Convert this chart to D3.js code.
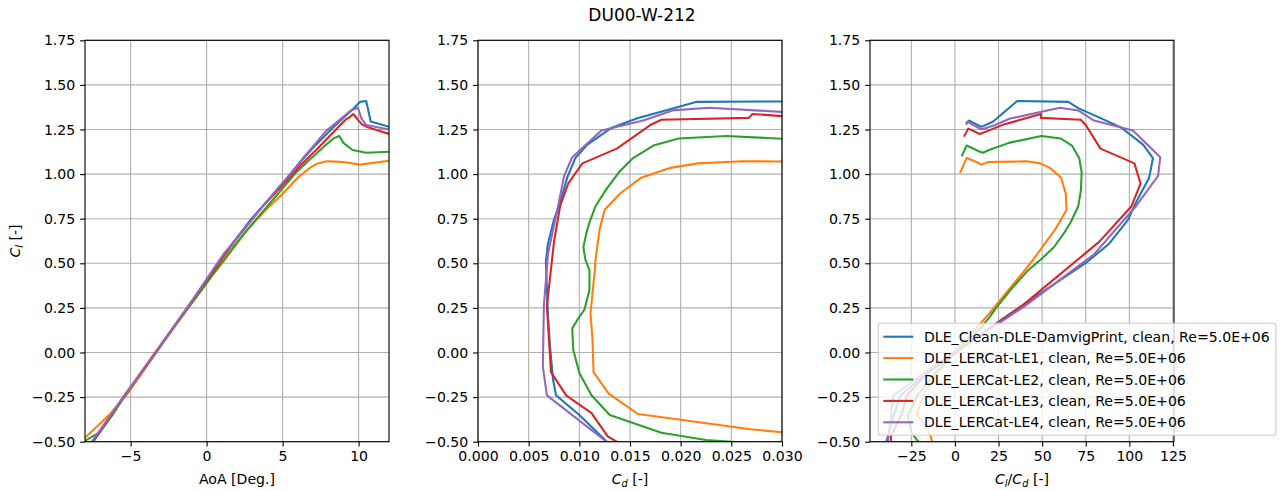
<!DOCTYPE html>
<html><head><meta charset="utf-8">
<script src="https://cdn.jsdelivr.net/npm/d3@7"></script>
<style>
body{margin:0;background:#fff;}
svg{font-family:"DejaVu Sans",sans-serif;}
</style>
</head><body>
<svg id="c" width="1284" height="490"></svg>
<script>
// ---------------- data ----------------
const seriesNames = [
  "DLE_Clean-DLE-DamvigPrint, clean, Re=5.0E+06",
  "DLE_LERCat-LE1, clean, Re=5.0E+06",
  "DLE_LERCat-LE2, clean, Re=5.0E+06",
  "DLE_LERCat-LE3, clean, Re=5.0E+06",
  "DLE_LERCat-LE4, clean, Re=5.0E+06"
];
const seriesColors = ["#1f77b4", "#ff7f0e", "#2ca02c", "#d62728", "#9467bd"];

// Clean
const aoaClean = [-9.0, -7.5, -6.2, -5.4, -4.6, -3.0, -1.6, 0.85, 1.7, 2.9, 3.9, 5.3, 6.4, 7.2, 8.3, 9.0, 9.7, 10.1, 10.5, 10.8, 12.0, 14.0, 16.0];
const clClean  = [-0.69, -0.505, -0.35, -0.24, -0.15, 0.04, 0.21, 0.51, 0.61, 0.745, 0.84, 0.98, 1.09, 1.165, 1.26, 1.315, 1.37, 1.405, 1.41, 1.295, 1.265, 1.30, 1.286];
const cdClean  = [0.0161, 0.0128, 0.0100, 0.0077, 0.0074, 0.0071, 0.0069, 0.0067, 0.0069, 0.0075, 0.0081, 0.0088, 0.0096, 0.0108, 0.0132, 0.0158, 0.0194, 0.0216, 0.0395, 0.059, 0.083, 0.159, 0.204];

// LE1
const aoaLE1 = [-9.0, -7.9, -7.4, -6.35, -5.2, -4.2, -2.75, -1.45, 0.5, 1.2, 2.7, 3.9, 5.0, 6.0, 6.8, 7.3, 7.9, 8.5, 9.0, 10.1, 12.0, 14.0, 16.0];
const clLE1  = [-0.53, -0.47, -0.43, -0.345, -0.23, -0.11, 0.07, 0.22, 0.445, 0.52, 0.69, 0.80, 0.89, 0.98, 1.035, 1.06, 1.072, 1.07, 1.068, 1.053, 1.075, 1.09, 1.005];
const cdLE1  = [0.042, 0.034, 0.0269, 0.0158, 0.0129, 0.0114, 0.0113, 0.0111, 0.0115, 0.0116, 0.0120, 0.0125, 0.0140, 0.0161, 0.0190, 0.0217, 0.0261, 0.032, 0.0559, 0.0688, 0.100, 0.163, 0.347];

// LE2
const aoaLE2 = [-9.0, -7.9, -7.1, -6.2, -5.35, -4.3, -3.2, -2.2, -1.65, -1.3, -0.35, 0.6, 1.15, 1.75, 2.5, 3.1, 4.0, 4.9, 5.9, 6.9, 7.8, 8.35, 8.73, 9.0, 9.6, 10.5, 12.0, 14.0, 16.0];
const clLE2  = [-0.58, -0.49, -0.45, -0.35, -0.24, -0.115, 0.015, 0.135, 0.20, 0.24, 0.35, 0.46, 0.52, 0.59, 0.67, 0.73, 0.82, 0.91, 1.01, 1.09, 1.16, 1.20, 1.214, 1.175, 1.135, 1.12, 1.125, 1.16, 1.10];
const cdLE2  = [0.045, 0.0225, 0.0181, 0.0130, 0.0112, 0.0100, 0.0094, 0.0093, 0.0100, 0.0105, 0.0110, 0.0110, 0.0106, 0.0104, 0.0107, 0.0110, 0.0116, 0.0126, 0.0139, 0.0153, 0.0173, 0.0198, 0.0245, 0.038, 0.058, 0.070, 0.079, 0.173, 0.29];

// LE3
const aoaLE3 = [-9.0, -7.25, -6.2, -5.4, -4.3, -1.2, 1.8, 3.7, 5.1, 6.3, 7.3, 8.8, 9.15, 9.35, 9.65, 10.0, 10.2, 10.6, 12.0, 14.0, 16.0];
const clLE3  = [-0.66, -0.47, -0.34, -0.24, -0.11, 0.26, 0.62, 0.82, 0.947, 1.06, 1.143, 1.275, 1.305, 1.315, 1.337, 1.30, 1.28, 1.262, 1.225, 1.255, 1.21];
const cdLE3  = [0.0185, 0.0128, 0.0112, 0.0087, 0.0072, 0.0068, 0.0075, 0.0081, 0.0089, 0.0103, 0.0137, 0.0170, 0.0181, 0.0267, 0.0271, 0.036, 0.045, 0.0528, 0.0857, 0.165, 0.233];

// LE4
const aoaLE4 = [-9.2, -5.4, -4.0, -1.2, 1.1, 3.7, 5.4, 6.4, 7.9, 8.7, 9.5, 9.95, 10.2, 10.5, 12.0, 14.0, 16.0];
const clLE4  = [-0.70, -0.24, -0.08, 0.26, 0.55, 0.82, 0.99, 1.095, 1.245, 1.30, 1.357, 1.372, 1.31, 1.275, 1.25, 1.292, 1.277];
const cdLE4  = [0.0172, 0.0068, 0.0064, 0.0065, 0.0069, 0.0079, 0.0085, 0.0093, 0.0122, 0.0163, 0.0192, 0.0228, 0.042, 0.055, 0.082, 0.17, 0.203];

const clTicks    = [-0.5, -0.25, 0, 0.25, 0.5, 0.75, 1.0, 1.25, 1.5, 1.75];
const aoaTicks   = [-5, 0, 5, 10];
const cdTicks    = [0, 0.005, 0.010, 0.015, 0.020, 0.025, 0.030];
const ratioTicks = [-25, 0, 25, 50, 75, 100, 125];

const titleText = "DU00-W-212";

// ---------------- build ----------------
const aoaArr = [aoaClean, aoaLE1, aoaLE2, aoaLE3, aoaLE4];
const clArr  = [clClean, clLE1, clLE2, clLE3, clLE4];
const cdArr  = [cdClean, cdLE1, cdLE2, cdLE3, cdLE4];
const series = seriesNames.map((name, i) => ({
  name, color: seriesColors[i],
  pts: aoaArr[i].map((a, j) => ({aoa: a, cl: clArr[i][j], cd: cdArr[i][j], ratio: clArr[i][j] / cdArr[i][j]}))
}));

const FS = 14.1;
const svg = d3.select("#c");
const yTop = 40.3, yBot = 441.7, pw = 304;
const yScale = d3.scaleLinear().domain([-0.5, 1.75]).range([yBot, yTop]);

const panels = [
  {left: 85,  domain: [-8, 12],       ticks: aoaTicks,   fmt: d3.format("d"),   key: "aoa",
   label: [{t: "AoA [Deg.]"}]},
  {left: 478, domain: [0, 0.03],      ticks: cdTicks,    fmt: d3.format(".3f"), key: "cd",
   label: [{t: "C", it: 1}, {t: "d", it: 1, sub: 1}, {t: " [-]"}]},
  {left: 870, domain: [-48.7, 125.6], ticks: ratioTicks, fmt: d3.format("d"),   key: "ratio",
   label: [{t: "C", it: 1}, {t: "l", it: 1, sub: 1}, {t: "/"}, {t: "C", it: 1}, {t: "d", it: 1, sub: 1}, {t: " [-]"}]}
];

function mathText(textSel, parts) {
  let shifted = false;
  parts.forEach(p => {
    const ts = textSel.append("tspan").text(p.t);
    if (p.it) ts.attr("font-style", "italic");
    if (p.sub) { ts.attr("font-size", FS * 0.7).attr("dy", shifted ? 0 : 3.2); shifted = true; }
    else if (shifted) { ts.attr("dy", -3.2); shifted = false; }
  });
}

panels.forEach((p, pi) => {
  const x = d3.scaleLinear().domain(p.domain).range([p.left, p.left + pw]);
  const g = svg.append("g");
  const clipId = "clip" + pi;
  svg.append("clipPath").attr("id", clipId).append("rect")
    .attr("x", p.left).attr("y", yTop).attr("width", pw).attr("height", yBot - yTop);

  // grid
  g.selectAll(".gx").data(p.ticks).enter().append("line")
    .attr("x1", d => x(d)).attr("x2", d => x(d)).attr("y1", yTop).attr("y2", yBot)
    .attr("stroke", "#b0b0b0").attr("stroke-width", 1.11);
  g.selectAll(".gy").data(clTicks).enter().append("line")
    .attr("x1", p.left).attr("x2", p.left + pw).attr("y1", d => yScale(d)).attr("y2", d => yScale(d))
    .attr("stroke", "#b0b0b0").attr("stroke-width", 1.11);

  // lines
  const line = d3.line().x(d => x(d[p.key])).y(d => yScale(d.cl));
  const lg = g.append("g").attr("clip-path", `url(#${clipId})`);
  series.forEach(s => {
    lg.append("path").attr("d", line(s.pts)).attr("fill", "none")
      .attr("stroke", s.color).attr("stroke-width", 2.08)
      .attr("stroke-linejoin", "round").attr("stroke-linecap", "butt");
  });

  // spines
  g.append("rect").attr("x", p.left).attr("y", yTop).attr("width", pw).attr("height", yBot - yTop)
    .attr("fill", "none").attr("stroke", "#000").attr("stroke-width", 1.11);

  // axes
  const ax = g.append("g").attr("transform", `translate(0,${yBot})`)
    .call(d3.axisBottom(x).tickValues(p.ticks).tickFormat(p.fmt).tickSize(4.86).tickPadding(4.86));
  const ay = g.append("g").attr("transform", `translate(${p.left},0)`)
    .call(d3.axisLeft(yScale).tickValues(clTicks).tickFormat(d3.format(".2f")).tickSize(4.86).tickPadding(4.86));
  [ax, ay].forEach(a => {
    a.select(".domain").remove();
    a.attr("font-size", FS).attr("font-family", "DejaVu Sans").attr("fill", "#000");
    a.selectAll("line").attr("stroke", "#000").attr("stroke-width", 1.11);
    a.selectAll("text").attr("fill", "#000");
  });

  // x label
  const xl = g.append("text").attr("x", p.left + pw / 2).attr("y", 484)
    .attr("text-anchor", "middle").attr("font-size", FS).attr("fill", "#000");
  mathText(xl, p.label);
});

// y label (first panel)
const yl = svg.append("text").attr("transform", `translate(20,${(yTop + yBot) / 2}) rotate(-90)`)
  .attr("text-anchor", "middle").attr("font-size", FS).attr("fill", "#000");
mathText(yl, [{t: "C", it: 1}, {t: "l", it: 1, sub: 1}, {t: " [-]"}]);

// title
svg.append("text").attr("x", 642).attr("y", 21).attr("text-anchor", "middle")
  .attr("font-size", 17).attr("fill", "#000").text(titleText);

// legend
const legX = 878.3, legY = 323.3, rowH = 21.4, firstRow = 336.7;
const leg = svg.append("g");
const legRect = leg.append("rect").attr("x", legX).attr("y", legY).attr("height", 112)
  .attr("rx", 2.8).attr("fill", "#fff").attr("fill-opacity", 0.8)
  .attr("stroke", "#cccccc").attr("stroke-width", 1.11);
let maxRight = 0;
series.forEach((s, i) => {
  const yy = firstRow + i * rowH;
  leg.append("line").attr("x1", 883.3).attr("x2", 913.3).attr("y1", yy).attr("y2", yy)
    .attr("stroke", s.color).attr("stroke-width", 2.08);
  const t = leg.append("text").attr("x", 924).attr("y", yy).attr("dy", "0.36em")
    .attr("font-size", FS).attr("fill", "#000").text(s.name);
  maxRight = Math.max(maxRight, 924 + t.node().getComputedTextLength());
});
legRect.attr("width", maxRight + 6 - legX);
</script>
</body></html>
